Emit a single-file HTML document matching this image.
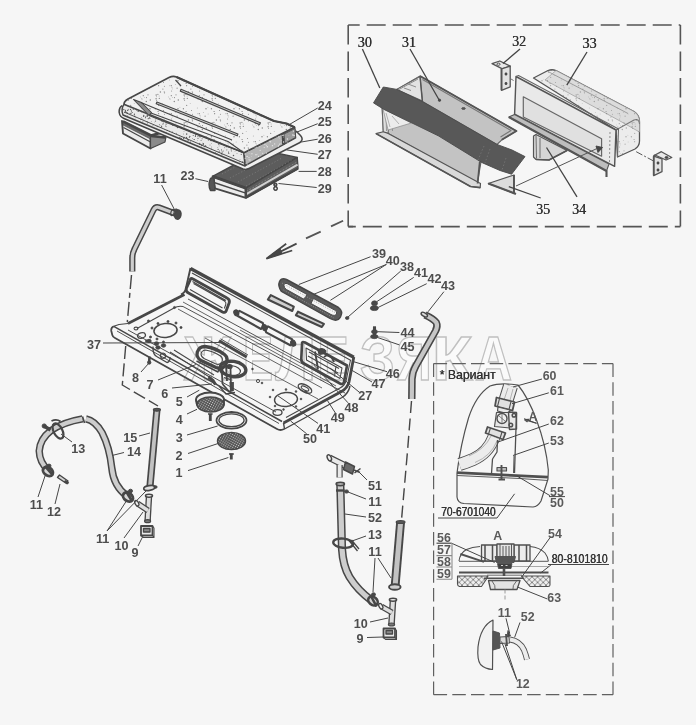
<!DOCTYPE html>
<html><head><meta charset="utf-8"><title>Diagram</title>
<style>
html,body{margin:0;padding:0;background:#f6f6f6;}
body{width:696px;height:725px;overflow:hidden;}
svg{display:block}
text{font-family:"Liberation Sans",sans-serif;fill:#3c3c3c;}
text.l{font-weight:bold;fill:#4d4d4d;}
text.r{font-weight:bold;fill:#5a5a5a;}
text.n{fill:#333;}
text.s{font-family:"Liberation Serif",serif;fill:#333;}
text.wm{font-weight:bold;fill:#fafafa;stroke:#c0c0c0;stroke-width:1.4px;}
</style></head><body>
<svg width="696" height="725" viewBox="0 0 696 725">
<defs>
<pattern id="mesh" width="2.2" height="2.2" patternUnits="userSpaceOnUse" patternTransform="rotate(30)"><rect width="2.2" height="2.2" fill="#555"/><rect width="1" height="1" fill="#cfcfcf"/></pattern>
<pattern id="hatch" width="5.6" height="5.6" patternUnits="userSpaceOnUse"><rect width="5.6" height="5.6" fill="#efefef"/><path d="M0 0L5.6 5.6M5.6 0L0 5.6" stroke="#5a5a5a" stroke-width="0.7"/></pattern>
<pattern id="stipL" width="28" height="28" patternUnits="userSpaceOnUse"><g fill="#5a5a5a"><circle cx="9.1" cy="4.2" r="0.61"/><circle cx="2.0" cy="15.0" r="0.50"/><circle cx="1.6" cy="14.2" r="0.36"/><circle cx="12.1" cy="2.0" r="0.39"/><circle cx="11.9" cy="23.2" r="0.40"/><circle cx="6.3" cy="17.6" r="0.73"/><circle cx="16.2" cy="11.1" r="0.74"/><circle cx="1.3" cy="24.0" r="0.47"/><circle cx="4.0" cy="3.3" r="0.47"/><circle cx="22.9" cy="5.1" r="0.58"/><circle cx="17.9" cy="10.4" r="0.57"/><circle cx="1.8" cy="1.7" r="0.43"/><circle cx="19.1" cy="12.0" r="0.48"/><circle cx="16.4" cy="12.7" r="0.47"/><circle cx="22.2" cy="19.6" r="0.45"/><circle cx="16.1" cy="14.7" r="0.70"/><circle cx="20.4" cy="8.1" r="0.74"/><circle cx="3.3" cy="11.7" r="0.65"/><circle cx="4.3" cy="13.7" r="0.37"/><circle cx="18.7" cy="21.4" r="0.58"/><circle cx="24.5" cy="8.8" r="0.63"/><circle cx="16.6" cy="16.2" r="0.53"/><circle cx="23.5" cy="26.5" r="0.54"/><circle cx="18.6" cy="1.7" r="0.63"/><circle cx="18.1" cy="27.8" r="0.68"/><circle cx="8.0" cy="10.8" r="0.62"/><circle cx="0.6" cy="12.9" r="0.42"/><circle cx="3.3" cy="1.7" r="0.66"/><circle cx="3.6" cy="6.9" r="0.51"/><circle cx="24.4" cy="2.3" r="0.53"/><circle cx="15.4" cy="24.7" r="0.68"/><circle cx="24.2" cy="7.8" r="0.52"/><circle cx="10.0" cy="24.8" r="0.73"/><circle cx="4.2" cy="4.9" r="0.44"/><circle cx="6.5" cy="13.6" r="0.59"/><circle cx="7.4" cy="0.1" r="0.52"/><circle cx="10.3" cy="15.9" r="0.73"/><circle cx="19.3" cy="14.4" r="0.60"/></g></pattern>
<pattern id="stipD" width="28" height="28" patternUnits="userSpaceOnUse"><g fill="#5a5a5a"><circle cx="18.9" cy="1.5" r="0.71"/><circle cx="21.8" cy="24.5" r="0.67"/><circle cx="11.0" cy="11.2" r="0.39"/><circle cx="17.8" cy="1.7" r="0.38"/><circle cx="5.8" cy="4.5" r="0.49"/><circle cx="1.5" cy="0.0" r="0.41"/><circle cx="2.8" cy="10.2" r="0.36"/><circle cx="24.5" cy="17.2" r="0.41"/><circle cx="7.1" cy="9.7" r="0.50"/><circle cx="3.4" cy="23.8" r="0.75"/><circle cx="13.0" cy="13.5" r="0.38"/><circle cx="2.9" cy="9.6" r="0.46"/><circle cx="23.2" cy="4.5" r="0.36"/><circle cx="26.6" cy="14.8" r="0.41"/><circle cx="15.2" cy="0.8" r="0.56"/><circle cx="27.4" cy="24.2" r="0.63"/><circle cx="7.3" cy="10.3" r="0.42"/><circle cx="21.6" cy="14.9" r="0.66"/><circle cx="9.2" cy="6.2" r="0.67"/><circle cx="27.6" cy="23.9" r="0.67"/><circle cx="22.9" cy="20.7" r="0.44"/><circle cx="14.5" cy="10.0" r="0.36"/><circle cx="0.8" cy="7.8" r="0.45"/><circle cx="19.4" cy="26.8" r="0.53"/><circle cx="26.2" cy="27.7" r="0.73"/><circle cx="10.2" cy="6.2" r="0.44"/><circle cx="5.5" cy="5.7" r="0.60"/><circle cx="25.2" cy="23.5" r="0.54"/><circle cx="18.3" cy="22.4" r="0.38"/><circle cx="18.5" cy="25.5" r="0.66"/><circle cx="21.0" cy="13.4" r="0.42"/><circle cx="22.1" cy="9.3" r="0.67"/><circle cx="27.2" cy="11.1" r="0.51"/><circle cx="26.5" cy="20.3" r="0.42"/><circle cx="3.6" cy="4.2" r="0.71"/><circle cx="22.6" cy="4.1" r="0.68"/><circle cx="27.4" cy="18.4" r="0.49"/><circle cx="15.4" cy="3.7" r="0.36"/><circle cx="27.2" cy="18.2" r="0.56"/><circle cx="26.1" cy="12.1" r="0.70"/><circle cx="23.1" cy="5.9" r="0.45"/><circle cx="8.2" cy="6.7" r="0.58"/><circle cx="7.3" cy="11.7" r="0.40"/><circle cx="25.5" cy="9.9" r="0.53"/><circle cx="16.3" cy="25.3" r="0.52"/><circle cx="25.7" cy="14.0" r="0.56"/><circle cx="14.7" cy="0.5" r="0.53"/><circle cx="5.1" cy="0.1" r="0.67"/><circle cx="4.8" cy="13.3" r="0.64"/><circle cx="15.6" cy="9.1" r="0.56"/><circle cx="15.6" cy="22.0" r="0.39"/><circle cx="15.7" cy="7.0" r="0.46"/><circle cx="21.6" cy="14.2" r="0.57"/><circle cx="21.3" cy="25.5" r="0.53"/><circle cx="17.2" cy="14.2" r="0.55"/><circle cx="19.4" cy="12.7" r="0.56"/><circle cx="13.4" cy="26.4" r="0.63"/><circle cx="24.5" cy="26.4" r="0.45"/><circle cx="15.7" cy="26.4" r="0.69"/><circle cx="3.8" cy="3.4" r="0.53"/><circle cx="2.0" cy="6.7" r="0.38"/><circle cx="18.7" cy="22.0" r="0.71"/><circle cx="4.3" cy="20.1" r="0.61"/><circle cx="4.0" cy="24.7" r="0.74"/><circle cx="6.1" cy="26.7" r="0.51"/><circle cx="13.6" cy="27.7" r="0.68"/><circle cx="4.5" cy="12.1" r="0.56"/><circle cx="9.5" cy="5.5" r="0.48"/><circle cx="20.2" cy="0.5" r="0.57"/><circle cx="12.3" cy="0.5" r="0.48"/><circle cx="17.5" cy="14.3" r="0.38"/><circle cx="27.6" cy="22.1" r="0.74"/><circle cx="2.9" cy="7.4" r="0.37"/><circle cx="21.8" cy="7.6" r="0.40"/><circle cx="11.8" cy="25.5" r="0.68"/><circle cx="7.2" cy="4.2" r="0.72"/><circle cx="16.0" cy="19.6" r="0.39"/><circle cx="1.6" cy="19.3" r="0.52"/><circle cx="2.0" cy="26.3" r="0.60"/><circle cx="22.4" cy="2.3" r="0.69"/><circle cx="1.9" cy="24.2" r="0.53"/><circle cx="9.5" cy="15.5" r="0.72"/><circle cx="7.5" cy="3.6" r="0.56"/><circle cx="6.7" cy="3.1" r="0.41"/><circle cx="1.4" cy="5.6" r="0.47"/><circle cx="8.5" cy="21.3" r="0.47"/><circle cx="14.0" cy="5.0" r="0.49"/><circle cx="0.5" cy="7.0" r="0.36"/><circle cx="20.5" cy="15.4" r="0.43"/><circle cx="13.3" cy="26.2" r="0.39"/><circle cx="22.9" cy="12.1" r="0.55"/><circle cx="23.4" cy="11.0" r="0.55"/><circle cx="19.3" cy="27.5" r="0.49"/><circle cx="23.3" cy="19.8" r="0.60"/><circle cx="11.3" cy="9.7" r="0.37"/></g></pattern>
<pattern id="stipW" width="28" height="28" patternUnits="userSpaceOnUse"><g fill="#e8e8e8"><circle cx="3.6" cy="2.0" r="0.65"/><circle cx="7.2" cy="4.6" r="0.38"/><circle cx="23.6" cy="24.4" r="0.62"/><circle cx="7.9" cy="6.8" r="0.47"/><circle cx="12.9" cy="4.4" r="0.53"/><circle cx="7.4" cy="26.9" r="0.74"/><circle cx="15.3" cy="6.8" r="0.74"/><circle cx="8.7" cy="10.0" r="0.35"/><circle cx="10.7" cy="13.3" r="0.55"/><circle cx="5.6" cy="14.1" r="0.35"/><circle cx="7.4" cy="2.5" r="0.51"/><circle cx="1.2" cy="0.6" r="0.47"/><circle cx="6.5" cy="16.4" r="0.56"/><circle cx="21.0" cy="18.4" r="0.64"/><circle cx="24.6" cy="10.9" r="0.48"/><circle cx="27.6" cy="4.2" r="0.64"/><circle cx="18.0" cy="1.2" r="0.68"/><circle cx="25.0" cy="17.6" r="0.64"/><circle cx="22.7" cy="3.9" r="0.56"/><circle cx="14.1" cy="23.4" r="0.67"/><circle cx="23.1" cy="16.4" r="0.71"/><circle cx="19.1" cy="19.4" r="0.44"/><circle cx="0.9" cy="3.7" r="0.49"/><circle cx="2.9" cy="23.4" r="0.57"/><circle cx="17.6" cy="17.5" r="0.62"/><circle cx="13.7" cy="0.1" r="0.67"/><circle cx="21.0" cy="14.1" r="0.56"/><circle cx="18.5" cy="1.8" r="0.64"/><circle cx="7.1" cy="2.1" r="0.46"/><circle cx="20.4" cy="5.7" r="0.65"/><circle cx="27.3" cy="13.8" r="0.50"/><circle cx="13.4" cy="19.1" r="0.66"/><circle cx="17.3" cy="18.0" r="0.38"/><circle cx="4.1" cy="7.1" r="0.65"/><circle cx="8.5" cy="15.9" r="0.35"/><circle cx="1.7" cy="7.5" r="0.62"/><circle cx="19.4" cy="18.9" r="0.47"/><circle cx="14.5" cy="13.0" r="0.54"/><circle cx="3.3" cy="25.0" r="0.43"/><circle cx="27.4" cy="26.2" r="0.36"/><circle cx="12.9" cy="23.0" r="0.74"/><circle cx="12.6" cy="7.5" r="0.43"/><circle cx="26.5" cy="5.9" r="0.58"/><circle cx="4.0" cy="14.7" r="0.73"/><circle cx="3.7" cy="23.0" r="0.55"/><circle cx="24.8" cy="19.7" r="0.44"/><circle cx="25.1" cy="13.6" r="0.36"/><circle cx="0.1" cy="13.8" r="0.53"/><circle cx="8.5" cy="3.9" r="0.49"/><circle cx="8.9" cy="23.5" r="0.35"/><circle cx="21.0" cy="23.5" r="0.40"/><circle cx="25.9" cy="20.0" r="0.71"/><circle cx="8.1" cy="10.4" r="0.51"/><circle cx="28.0" cy="16.5" r="0.49"/><circle cx="12.0" cy="7.7" r="0.37"/><circle cx="2.8" cy="23.4" r="0.46"/><circle cx="26.2" cy="7.0" r="0.46"/><circle cx="14.3" cy="5.3" r="0.50"/><circle cx="26.8" cy="24.8" r="0.67"/><circle cx="17.7" cy="25.6" r="0.73"/></g></pattern>
<filter id="soft" x="-5%" y="-5%" width="110%" height="110%"><feGaussianBlur stdDeviation="0.45"/></filter>
</defs>
<rect width="696" height="725" fill="#f6f6f6"/>
<g filter="url(#soft)">
<text x="183.9" y="380" class="wm" font-size="62.5" textLength="47.9" lengthAdjust="spacingAndGlyphs">Ж</text>
<text x="243.0" y="380" class="wm" font-size="62.5" textLength="30.1" lengthAdjust="spacingAndGlyphs">Е</text>
<text x="275.3" y="380" class="wm" font-size="62.5" textLength="40.7" lengthAdjust="spacingAndGlyphs">Л</text>
<text x="317.4" y="380" class="wm" font-size="62.5" textLength="31.2" lengthAdjust="spacingAndGlyphs">Е</text>
<text x="359.9" y="380" class="wm" font-size="62.5" textLength="35.0" lengthAdjust="spacingAndGlyphs">З</text>
<text x="396.6" y="380" class="wm" font-size="62.5" textLength="35.2" lengthAdjust="spacingAndGlyphs">Я</text>
<text x="432.1" y="380" class="wm" font-size="62.5" textLength="40.6" lengthAdjust="spacingAndGlyphs">К</text>
<text x="474.7" y="380" class="wm" font-size="62.5" textLength="37.4" lengthAdjust="spacingAndGlyphs">А</text>
<path d="M348.2 25 H680.4" fill="none" stroke="#555" stroke-width="1.6" stroke-dasharray="19 7" stroke-dashoffset="7.5"/>
<path d="M348.2 25 V226.6" fill="none" stroke="#555" stroke-width="1.6" stroke-dasharray="19.5 7"/>
<path d="M680.4 25 V226.6" fill="none" stroke="#555" stroke-width="1.6" stroke-dasharray="19.5 7"/>
<path d="M348.2 226.6 H680.4" fill="none" stroke="#555" stroke-width="1.6" stroke-dasharray="19 7" stroke-dashoffset="11.4"/>
<path d="M348.2 226.6 H353" fill="none" stroke="#555" stroke-width="1.6"/>
<path d="M433.6 363.6 H613 M433.6 694.7 H613 M433.6 363.6 V694.7 M613 363.6 V694.7" fill="none" stroke="#606060" stroke-width="1.2" stroke-dasharray="13.5 5.2"/>
<path d="M343.1 220.7 L331 226.4 M320.7 231.6 L306 238.4" fill="none" stroke="#555" stroke-width="1.77" stroke-linejoin="round" />
<path d="M266.4 258.6 L286.2 243.8 M266.4 258.6 L296.6 243.6 M266.4 258.6 L292.2 250.5" fill="none" stroke="#464646" stroke-width="1.77" stroke-linejoin="round" />
<path d="M266.4 258.6 L280 248.5 L282 253.5 Z" fill="#464646" stroke="#464646" stroke-width="0.94" stroke-linejoin="round" />
<path d="M190.5 268.5 L353.8 357.2" fill="none" stroke="#464646" stroke-width="3.54" stroke-linejoin="round" />
<path d="M192 273 L351 360.5" fill="none" stroke="#464646" stroke-width="1.06" stroke-linejoin="round" />
<path d="M190.5 268 L185.5 290 Q184.5 293 181 294.5" fill="none" stroke="#464646" stroke-width="1.89" stroke-linejoin="round" />
<path d="M184.5 294.5 L128 323.5" fill="none" stroke="#464646" stroke-width="2.6" stroke-linejoin="round" />
<path d="M128 323.5 L119 324.5 L113.8 326.3" fill="none" stroke="#464646" stroke-width="1.06" stroke-linejoin="round" />
<path d="M183 306.5 Q178 305.5 174 308 L137 328.5" fill="none" stroke="#464646" stroke-width="1.06" stroke-linejoin="round" />
<path d="M113.8 326.3 Q110.8 327.5 111.3 331 L112.3 335 Q112.8 337 115 338 L277 429 Q280.5 431 284 429 " fill="none" stroke="#464646" stroke-width="1.77" stroke-linejoin="round" />
<path d="M113.8 326.3 L282 421.5" fill="none" stroke="#464646" stroke-width="1.53" stroke-linejoin="round" />
<path d="M117 331 L279 423.5" fill="none" stroke="#464646" stroke-width="0.94" stroke-linejoin="round" />
<path d="M353.8 357 L349 382 Q347.5 388 341.5 391.5 L283.5 423" fill="none" stroke="#464646" stroke-width="2.83" stroke-linejoin="round" />
<path d="M350.5 360 L346 381 Q344.8 385.5 340 388 L286 417.5" fill="none" stroke="#464646" stroke-width="1.06" stroke-linejoin="round" />
<path d="M283.5 423 L284.5 429 L342 397.5 Q348.5 393.5 350 386" fill="none" stroke="#464646" stroke-width="1.42" stroke-linejoin="round" />
<path d="M183 306.5 L345 393" fill="none" stroke="#464646" stroke-width="0.94" stroke-linejoin="round" />
<path d="M188 299 L300 360" fill="none" stroke="#464646" stroke-width="0.94" stroke-linejoin="round" />
<path d="M183 302 L336 386" fill="none" stroke="#464646" stroke-width="0.83" stroke-linejoin="round" />
<path d="M128 330 L276 412" fill="none" stroke="#464646" stroke-width="0.94" stroke-linejoin="round" />
<path d="M178 309 L322 388 M240 330 L330 379 M205 338 L318 399" fill="none" stroke="#464646" stroke-width="0.83" stroke-linejoin="round" />
<path d="M193 279 Q190.5 277.5 190 280.5 L186.3 288.5 Q185.5 291.5 188.5 293 L222.5 312 Q225.5 313.5 226.5 310 L229.3 302.5 Q230 299.5 227 298 Z" fill="none" stroke="#464646" stroke-width="2.83" stroke-linejoin="round" />
<path d="M193.5 283.5 L224.5 301 Q226.5 302.5 225.8 304.5 L224.3 308.5 M190 289.5 L222.5 308 M192.5 281.5 L226 300.5" fill="none" stroke="#464646" stroke-width="1.06" stroke-linejoin="round" />
<path d="M239.5 310.9 L262.8 323 Q264 326 261 329 L237.8 316 Q236 313.5 239.5 310.9Z" fill="none" stroke="#464646" stroke-width="2.12" stroke-linejoin="round" />
<path d="M268 326.4 L292 339.3 Q293.5 342.5 290.3 345.3 L266.2 332.4 Q264.5 329.5 268 326.4Z" fill="none" stroke="#464646" stroke-width="2.12" stroke-linejoin="round" />
<ellipse cx="236.3" cy="312.8" rx="2.4" ry="3" transform="rotate(-20 236.3 312.8)" fill="#464646" stroke="#464646" stroke-width="1.18" />
<ellipse cx="264.6" cy="327.6" rx="2.4" ry="3" transform="rotate(-20 264.6 327.6)" fill="#464646" stroke="#464646" stroke-width="1.18" />
<ellipse cx="293.2" cy="343.2" rx="2.4" ry="3" transform="rotate(-20 293.2 343.2)" fill="#464646" stroke="#464646" stroke-width="1.18" />
<path d="M302 344 Q301.5 341 305 342.5 L347 365.5 L344 382 Q343 385 340 383.5 L304 363.5 Q301 362 301.3 358.5 Z" fill="none" stroke="#464646" stroke-width="2.6" stroke-linejoin="round" />
<path d="M306 348 L342 368 L340 378.5 L306.5 360 Z" fill="none" stroke="#464646" stroke-width="1.06" stroke-linejoin="round" />
<path d="M315 351.5 L318 369 M324 357 Q330 352 334 362" fill="none" stroke="#464646" stroke-width="1.89" stroke-linejoin="round" />
<path d="M318 350 Q323 347 326 351 Q324 355 319 354Z" fill="#464646" stroke="#464646" stroke-width="1.18" stroke-linejoin="round" />
<path d="M309 352 L339 368.5 M308 356 L338 373 M336 366 L334.5 376.5" fill="none" stroke="#464646" stroke-width="1.06" stroke-linejoin="round" />
<ellipse cx="165.5" cy="330.5" rx="11.6" ry="7" transform="rotate(-5 165.5 330.5)" fill="none" stroke="#464646" stroke-width="1.53" />
<ellipse cx="286" cy="399.5" rx="11.5" ry="7" transform="rotate(-5 286 399.5)" fill="none" stroke="#464646" stroke-width="1.42" />
<ellipse cx="148.5" cy="321" rx="1.1" ry="1.1" transform="rotate(0 148.5 321)" fill="#464646" stroke="#464646" stroke-width="0.71" />
<ellipse cx="152" cy="328" rx="1.1" ry="1.1" transform="rotate(0 152 328)" fill="#464646" stroke="#464646" stroke-width="0.71" />
<ellipse cx="158" cy="323.5" rx="1.1" ry="1.1" transform="rotate(0 158 323.5)" fill="#464646" stroke="#464646" stroke-width="0.71" />
<ellipse cx="168" cy="321.5" rx="1.1" ry="1.1" transform="rotate(0 168 321.5)" fill="#464646" stroke="#464646" stroke-width="0.71" />
<ellipse cx="176" cy="323" rx="1.1" ry="1.1" transform="rotate(0 176 323)" fill="#464646" stroke="#464646" stroke-width="0.71" />
<ellipse cx="181" cy="327.5" rx="1.1" ry="1.1" transform="rotate(0 181 327.5)" fill="#464646" stroke="#464646" stroke-width="0.71" />
<ellipse cx="157" cy="339" rx="1.1" ry="1.1" transform="rotate(0 157 339)" fill="#464646" stroke="#464646" stroke-width="0.71" />
<ellipse cx="150.5" cy="337" rx="1.1" ry="1.1" transform="rotate(0 150.5 337)" fill="#464646" stroke="#464646" stroke-width="0.71" />
<ellipse cx="146.5" cy="341" rx="1.1" ry="1.1" transform="rotate(0 146.5 341)" fill="#464646" stroke="#464646" stroke-width="0.71" />
<ellipse cx="163.5" cy="342" rx="1.1" ry="1.1" transform="rotate(0 163.5 342)" fill="#464646" stroke="#464646" stroke-width="0.71" />
<ellipse cx="174.5" cy="307.5" rx="1.1" ry="1.1" transform="rotate(0 174.5 307.5)" fill="#464646" stroke="#464646" stroke-width="0.71" />
<ellipse cx="273" cy="390" rx="0.9" ry="0.9" transform="rotate(0 273 390)" fill="#464646" stroke="#464646" stroke-width="0.59" />
<ellipse cx="270" cy="397" rx="0.9" ry="0.9" transform="rotate(0 270 397)" fill="#464646" stroke="#464646" stroke-width="0.59" />
<ellipse cx="275" cy="406" rx="0.9" ry="0.9" transform="rotate(0 275 406)" fill="#464646" stroke="#464646" stroke-width="0.59" />
<ellipse cx="283.5" cy="409.5" rx="0.9" ry="0.9" transform="rotate(0 283.5 409.5)" fill="#464646" stroke="#464646" stroke-width="0.59" />
<ellipse cx="296" cy="406.5" rx="0.9" ry="0.9" transform="rotate(0 296 406.5)" fill="#464646" stroke="#464646" stroke-width="0.59" />
<ellipse cx="301" cy="399" rx="0.9" ry="0.9" transform="rotate(0 301 399)" fill="#464646" stroke="#464646" stroke-width="0.59" />
<ellipse cx="296" cy="391.5" rx="0.9" ry="0.9" transform="rotate(0 296 391.5)" fill="#464646" stroke="#464646" stroke-width="0.59" />
<ellipse cx="286" cy="389.5" rx="0.9" ry="0.9" transform="rotate(0 286 389.5)" fill="#464646" stroke="#464646" stroke-width="0.59" />
<ellipse cx="306" cy="392" rx="0.9" ry="0.9" transform="rotate(0 306 392)" fill="#464646" stroke="#464646" stroke-width="0.59" />
<ellipse cx="262" cy="383" rx="0.9" ry="0.9" transform="rotate(0 262 383)" fill="#464646" stroke="#464646" stroke-width="0.59" />
<ellipse cx="252.5" cy="369" rx="0.9" ry="0.9" transform="rotate(0 252.5 369)" fill="#464646" stroke="#464646" stroke-width="0.59" />
<ellipse cx="141.5" cy="335.5" rx="4" ry="2.6" transform="rotate(-15 141.5 335.5)" fill="none" stroke="#464646" stroke-width="1.3" />
<ellipse cx="136" cy="328.5" rx="2" ry="1.4" transform="rotate(0 136 328.5)" fill="none" stroke="#464646" stroke-width="1.06" />
<ellipse cx="277.5" cy="412.5" rx="4.5" ry="2.8" transform="rotate(0 277.5 412.5)" fill="none" stroke="#464646" stroke-width="1.3" />
<ellipse cx="305" cy="388.5" rx="7.5" ry="3.6" transform="rotate(28 305 388.5)" fill="none" stroke="#464646" stroke-width="1.3" />
<ellipse cx="305" cy="388.5" rx="4.2" ry="1.7" transform="rotate(28 305 388.5)" fill="none" stroke="#464646" stroke-width="1.06" />
<ellipse cx="258" cy="381" rx="1.6" ry="1.6" transform="rotate(0 258 381)" fill="none" stroke="#464646" stroke-width="0.94" />
<ellipse cx="149" cy="341" rx="2.2" ry="1.7" transform="rotate(0 149 341)" fill="#464646" stroke="#464646" stroke-width="0.94" />
<ellipse cx="156.5" cy="343.5" rx="2.2" ry="1.7" transform="rotate(0 156.5 343.5)" fill="#464646" stroke="#464646" stroke-width="0.94" />
<ellipse cx="163.5" cy="345.5" rx="2.2" ry="1.7" transform="rotate(0 163.5 345.5)" fill="#464646" stroke="#464646" stroke-width="0.94" />
<ellipse cx="158" cy="347.5" rx="2.2" ry="1.7" transform="rotate(0 158 347.5)" fill="#464646" stroke="#464646" stroke-width="0.94" />
<path d="M153 346.5 Q152.5 355 157.5 357 L167 362.5 Q170.5 361.5 170 357 M160.5 355 a2.6 2.6 0 1 0 5 1.5 a2.6 2.6 0 1 0 -5 -1.5" fill="none" stroke="#464646" stroke-width="1.3" stroke-linejoin="round" />
<path d="M149.5 356.5 L149.2 361.5" fill="none" stroke="#464646" stroke-width="2.6" stroke-linejoin="round" />
<ellipse cx="149.2" cy="362.5" rx="1.7" ry="1.7" transform="rotate(0 149.2 362.5)" fill="#464646" stroke="#464646" stroke-width="0.94" />
<path d="M205 346.5 Q199 346.5 197.3 352 Q196 357.5 201 360.5 L216 367.5 Q222.5 370 225.5 365 Q229 358 224.5 354.5 Q216 348 205 346.5 Z" fill="none" stroke="#464646" stroke-width="3.3" stroke-linejoin="round" />
<path d="M205.5 350 Q201.5 350.5 201 354 Q201 357 204.5 358.8 L215.5 363.8 Q220 365.5 221.8 362 Q223.5 358 220.5 356 Q214 351.5 205.5 350Z" fill="none" stroke="#464646" stroke-width="1.06" stroke-linejoin="round" />
<ellipse cx="233" cy="369" rx="13" ry="7.6" transform="rotate(8 233 369)" fill="none" stroke="#464646" stroke-width="3.3" />
<ellipse cx="231.5" cy="370.5" rx="9" ry="4.8" transform="rotate(8 231.5 370.5)" fill="none" stroke="#464646" stroke-width="1.18" />
<path d="M196.5 361 L218 372 L220 365.5" fill="none" stroke="#464646" stroke-width="1.42" stroke-linejoin="round" />
<path d="M219 340.7 L246.7 357" fill="none" stroke="#464646" stroke-width="3.07" stroke-linejoin="round" />
<path d="M220.5 338.8 L248 355" fill="none" stroke="#464646" stroke-width="0.94" stroke-linejoin="round" />
<path d="M221.5 364 L222.5 384 M226 366 L227 381 M230.5 368 L231 388 M222.5 384 L229 391.5 L233 390.5 L233 382" fill="none" stroke="#464646" stroke-width="1.77" stroke-linejoin="round" />
<path d="M219 386 L226 394 L235 392.5 M224 377.5 L231 379.5" fill="none" stroke="#464646" stroke-width="1.3" stroke-linejoin="round" />
<ellipse cx="229.5" cy="366.5" rx="2.6" ry="2" transform="rotate(0 229.5 366.5)" fill="#464646" stroke="#464646" stroke-width="1.18" />
<path d="M231 382 L231.5 391" fill="none" stroke="#464646" stroke-width="3.07" stroke-linejoin="round" />
<path d="M208.5 377 L213 380.5 L215.5 384.5" fill="none" stroke="#464646" stroke-width="3.07" stroke-linejoin="round" />
<path d="M170 352 L211 378 M174 350 L214 375" fill="none" stroke="#464646" stroke-width="1.06" stroke-linejoin="round" />
<path d="M212.6 176.4 L262 150 L297.2 157.4 L245.8 188.2 Z" fill="#5c5c5c" stroke="#464646" stroke-width="1.42" stroke-linejoin="round" />
<path d="M245.8 188.2 L297.2 157.4 L298 168.6 L245.8 197.8 Z" fill="#5c5c5c" stroke="#464646" stroke-width="1.42" stroke-linejoin="round" />
<path d="M246.3 194.2 L297.6 164.6" fill="none" stroke="#d2d2d2" stroke-width="2.01" stroke-linejoin="round" />
<path d="M246.3 191.5 L297.6 161.6" fill="none" stroke="#8c8c8c" stroke-width="0.83" stroke-linejoin="round" stroke-dasharray="2 1.5"/>
<path d="M245.8 197.8 L298 168.6" fill="none" stroke="#464646" stroke-width="2.12" stroke-linejoin="round" />
<path d="M212.6 176.4 L245.8 188.2 L245.8 197.8 L215 188.4 Z" fill="#ececec" stroke="#464646" stroke-width="1.89" stroke-linejoin="round" />
<path d="M214 182.5 L245.8 193.2" fill="none" stroke="#464646" stroke-width="1.42" stroke-linejoin="round" />
<path d="M212.6 176.4 L245.8 188.2" fill="none" stroke="#464646" stroke-width="2.83" stroke-linejoin="round" />
<path d="M245.8 188.2 L245.8 197.8" fill="none" stroke="#464646" stroke-width="2.36" stroke-linejoin="round" />
<path d="M210.5 178.5 Q207.5 184 210.5 190.5 L215 190.5 L214 177 Z" fill="#555" stroke="#464646" stroke-width="1.42" stroke-linejoin="round" />
<path d="M273 181.5 L275.5 184.5 M275.5 186.8 a1.7 1.7 0 1 0 0.1 0 M275.3 183.2 a1.4 1.4 0 1 0 0.1 0" fill="none" stroke="#464646" stroke-width="1.53" stroke-linejoin="round" />
<path d="M222 174 L262 153 M230 178 L272 156 M238 182 L282 158 M246 186 L292 160" fill="none" stroke="#8a8a8a" stroke-width="0.71" stroke-linejoin="round" stroke-dasharray="1 2.2"/>
<path d="M122 121 L150.5 135.5 L150.5 148.5 L123 133.5 Z" fill="#ededed" stroke="#464646" stroke-width="1.89" stroke-linejoin="round" />
<path d="M150.5 135.5 L166 137 L165 142 L150.5 148.5 Z" fill="#8a8a8a" stroke="#464646" stroke-width="1.18" stroke-linejoin="round" />
<path d="M123.5 127.5 L150.5 142" fill="none" stroke="#464646" stroke-width="1.18" stroke-linejoin="round" />
<path d="M123 121.5 L151 135.5 L160 133" fill="none" stroke="#464646" stroke-width="2.83" stroke-linejoin="round" />
<path d="M123 122.5 L150.5 136.5 L150.5 139 L123 125 Z" fill="#6a6a6a" stroke="#464646" stroke-width="0.59" stroke-linejoin="round" />
<path d="M151 136 L165.5 137.5" fill="none" stroke="#464646" stroke-width="2.36" stroke-linejoin="round" />
<path d="M122 105.5 Q118.5 108 119.3 113 Q120 117 124 118.5 L243 169 Q246 170 249 168.5 L300 142.5 Q304 139.5 300.5 135.5 L296 131" fill="#efefef" stroke="#464646" stroke-width="1.53" stroke-linejoin="round" />
<path d="M124.5 103.5 L243.9 152.7 L245 166 L123 115 Q120.5 109 124.5 103.5Z" fill="#e9e9e9" stroke="#464646" stroke-width="1.42" stroke-linejoin="round" />
<path d="M243.9 152.7 L294.6 127.2 L295.6 138 L245.3 165.6 Z" fill="#b4b4b4" stroke="#464646" stroke-width="1.42" stroke-linejoin="round" />
<path d="M283 133 L283.5 144.5" fill="none" stroke="#464646" stroke-width="2.83" stroke-linejoin="round" />
<path d="M284 134 L295 128.5 L295.5 137.5 L284.5 143.5Z" fill="#9a9a9a" stroke="#464646" stroke-width="0.94" stroke-linejoin="round" />
<path d="M176.5 77 Q173 75.5 169 77.5 L128 99 Q123 102 124.5 104.5 L243.9 152.7 L294.6 127.2 L286 123.5 L274 121 Z" fill="#f1f1f1" stroke="#464646" stroke-width="1.65" stroke-linejoin="round" />
<path d="M176.5 77 L274 121 L286.5 123.5 L294.6 127.2" fill="none" stroke="#464646" stroke-width="2.12" stroke-linejoin="round" />
<path d="M176.5 77 Q173 75.5 169 77.5 L128 99 Q123 102 124.5 104.5 L243.9 152.7 L294.6 127.2 L286 123.5 L274 121 Z" fill="url(#stipL)" stroke="none" stroke-width="0.0" stroke-linejoin="round" opacity="0.7"/>
<path d="M124.5 103.5 L243.9 152.7 L245 166 L123 115 Q120.5 109 124.5 103.5Z" fill="url(#stipD)" stroke="none" stroke-width="0.0" stroke-linejoin="round" />
<path d="M243.9 152.7 L294.6 127.2 L295.6 138 L245.3 165.6 Z" fill="url(#stipW)" stroke="none" stroke-width="0.0" stroke-linejoin="round" />
<path d="M181 89.3 L260.3 122.8 L259.6 124.6 L180.3 91.1 Z" fill="#d8d8d8" stroke="#464646" stroke-width="1.18" stroke-linejoin="round" />
<path d="M156.9 102 L237.9 134 L237.2 135.8 L156.2 103.8 Z" fill="#d8d8d8" stroke="#464646" stroke-width="1.18" stroke-linejoin="round" />
<path d="M133.5 99.5 L149 115.5 L151.5 112.5 L141.5 102.5 Z" fill="#8c8c8c" stroke="#464646" stroke-width="1.06" stroke-linejoin="round" />
<path d="M149 115.5 L222 144.5 L243.9 152.7 M151 113 L228 141.5 L243.9 152.7 M141 102.5 L232 140" fill="none" stroke="#464646" stroke-width="1.06" stroke-linejoin="round" />
<path d="M175.5 80 L181 86" fill="none" stroke="#464646" stroke-width="1.18" stroke-linejoin="round" />
<path d="M124 112 L245 163.5" fill="none" stroke="#464646" stroke-width="0.94" stroke-linejoin="round" />
<path d="M175 213.5 L159 207.5 Q155.5 206.3 153.5 210 L134.5 249 Q132.3 253 132.3 258 L132.3 271.5" fill="none" stroke="#464646" stroke-width="6.2" stroke-linecap="butt" stroke-linejoin="round"/>
<path d="M175 213.5 L159 207.5 Q155.5 206.3 153.5 210 L134.5 249 Q132.3 253 132.3 258 L132.3 271.5" fill="none" stroke="#cdcdcd" stroke-width="3.2" stroke-linecap="butt" stroke-linejoin="round"/>
<ellipse cx="177.8" cy="214.6" rx="3.2" ry="4.6" transform="rotate(10 177.8 214.6)" fill="#4a4a4a" stroke="#464646" stroke-width="1.42" />
<ellipse cx="176.2" cy="210.3" rx="1.6" ry="1.4" transform="rotate(0 176.2 210.3)" fill="#464646" stroke="#464646" stroke-width="0.94" />
<ellipse cx="172.5" cy="212.5" rx="1.6" ry="3.2" transform="rotate(15 172.5 212.5)" fill="none" stroke="#464646" stroke-width="1.18" />
<path d="M131.5 275 L127.3 322" fill="none" stroke="#464646" stroke-width="1.42" stroke-linejoin="round" stroke-dasharray="14 4 5 4"/>
<path d="M125.7 346 L122.3 385 L158 406" fill="none" stroke="#464646" stroke-width="1.42" stroke-linejoin="round" stroke-dasharray="13 4.5"/>
<path d="M286.5 279.5 Q281.5 277.5 279.5 281.5 Q277.5 286 281.5 291.5 L330 318.5 Q337.5 322.5 340.5 317 Q343.5 311 338.5 307.5 Z" fill="#5a5a5a" stroke="#464646" stroke-width="1.42" stroke-linejoin="round" />
<path d="M287 283.5 Q284 282.5 284 285.5 Q284 288 286.5 289.5 L303.5 299 Q306 297 307 294.5 Z" fill="#f4f4f4" stroke="#464646" stroke-width="0.94" stroke-linejoin="round" />
<path d="M313.5 298.5 Q312 301.5 311 303.5 L331 314.5 Q335 316.5 336.5 314 Q337.5 311.5 334.5 310 Z" fill="#f4f4f4" stroke="#464646" stroke-width="0.94" stroke-linejoin="round" />
<path d="M282 283 L335 312.5 M283.5 290 L334 318" fill="none" stroke="#9a9a9a" stroke-width="0.83" stroke-linejoin="round" stroke-dasharray="1 1.6"/>
<path d="M270.8 295.1 L293.8 306.6 L292.3 311 L267.9 299.5 Z" fill="#cfcfcf" stroke="#464646" stroke-width="2.12" stroke-linejoin="round" />
<path d="M298 311.7 L323.9 323.9 L321.8 327 L295.9 315.3 Z" fill="#cfcfcf" stroke="#464646" stroke-width="2.12" stroke-linejoin="round" />
<ellipse cx="347.2" cy="318" rx="1.8" ry="1.5" transform="rotate(0 347.2 318)" fill="#464646" stroke="#464646" stroke-width="0.71" />
<ellipse cx="374.5" cy="303.3" rx="3.0" ry="2.5" transform="rotate(0 374.5 303.3)" fill="#464646" stroke="#464646" stroke-width="0.71" />
<ellipse cx="374.3" cy="308.2" rx="4.0" ry="2.4" transform="rotate(0 374.3 308.2)" fill="#464646" stroke="#464646" stroke-width="0.71" />
<path d="M374.5 326.3 L374.5 337" fill="none" stroke="#464646" stroke-width="3.07" stroke-linejoin="round" />
<ellipse cx="374.5" cy="331.7" rx="3.0" ry="2.0" transform="rotate(0 374.5 331.7)" fill="#464646" stroke="#464646" stroke-width="0.71" />
<ellipse cx="374.3" cy="336.6" rx="3.7" ry="2.1" transform="rotate(0 374.3 336.6)" fill="#464646" stroke="#464646" stroke-width="0.71" />
<path d="M425 314.8 Q434 319 436.3 322.5 Q438 326 435.5 331 L415.8 366 Q412.3 372 412 379 L411.8 399" fill="none" stroke="#464646" stroke-width="7.4" stroke-linecap="butt" stroke-linejoin="round"/>
<path d="M425 314.8 Q434 319 436.3 322.5 Q438 326 435.5 331 L415.8 366 Q412.3 372 412 379 L411.8 399" fill="none" stroke="#c6c6c6" stroke-width="4.2" stroke-linecap="butt" stroke-linejoin="round"/>
<ellipse cx="424.3" cy="314.6" rx="1.8" ry="3.5" transform="rotate(-60 424.3 314.6)" fill="#dcdcdc" stroke="#464646" stroke-width="1.42" />
<path d="M411.5 401 L407.6 450 L401.5 520" fill="none" stroke="#464646" stroke-width="1.42" stroke-linejoin="round" stroke-dasharray="12 5.5"/>
<path d="M400.6 522 L395.2 585" fill="none" stroke="#464646" stroke-width="8.8" stroke-linecap="butt" stroke-linejoin="round"/>
<path d="M400.6 522 L395.2 585" fill="none" stroke="#c2c2c2" stroke-width="5.0" stroke-linecap="butt" stroke-linejoin="round"/>
<ellipse cx="394.8" cy="587" rx="5.8" ry="2.8" transform="rotate(0 394.8 587)" fill="#cfcfcf" stroke="#464646" stroke-width="1.89" />
<ellipse cx="400.6" cy="522" rx="4.4" ry="1.5" transform="rotate(0 400.6 522)" fill="#555" stroke="#464646" stroke-width="1.18" />
<ellipse cx="210" cy="399.5" rx="14" ry="7" transform="rotate(0 210 399.5)" fill="#f0f0f0" stroke="#464646" stroke-width="1.89" />
<ellipse cx="210.5" cy="404.5" rx="13.5" ry="7.5" transform="rotate(0 210.5 404.5)" fill="url(#mesh)" stroke="#464646" stroke-width="1.42" />
<path d="M196 399.5 Q196 404 197 405.5 M224 399.5 Q224.5 403 224 405.5" fill="none" stroke="#464646" stroke-width="1.42" stroke-linejoin="round" />
<path d="M210.3 414 L210.3 421" fill="none" stroke="#464646" stroke-width="2.83" stroke-linejoin="round" />
<path d="M208 414 L212.6 414" fill="none" stroke="#464646" stroke-width="1.53" stroke-linejoin="round" />
<ellipse cx="231.5" cy="420.3" rx="15" ry="8.3" transform="rotate(0 231.5 420.3)" fill="none" stroke="#464646" stroke-width="1.77" />
<ellipse cx="231.5" cy="420.3" rx="12.6" ry="6.4" transform="rotate(0 231.5 420.3)" fill="none" stroke="#464646" stroke-width="1.3" />
<ellipse cx="231.5" cy="441" rx="14" ry="8.6" transform="rotate(0 231.5 441)" fill="url(#mesh)" stroke="#464646" stroke-width="1.42" />
<path d="M231.3 453.5 L231.3 459.5" fill="none" stroke="#464646" stroke-width="2.83" stroke-linejoin="round" />
<path d="M229 454 L233.8 454" fill="none" stroke="#464646" stroke-width="1.53" stroke-linejoin="round" />
<path d="M48.5 470.5 Q39.5 462.5 39.2 451 Q40 439 51 430.5 Q63.5 422 82.5 418.8" fill="none" stroke="#464646" stroke-width="7.4" stroke-linecap="butt" stroke-linejoin="round"/>
<path d="M48.5 470.5 Q39.5 462.5 39.2 451 Q40 439 51 430.5 Q63.5 422 82.5 418.8" fill="none" stroke="#cdcdcd" stroke-width="4.4" stroke-linecap="butt" stroke-linejoin="round"/>
<path d="M86 418.8 Q95 420.5 102 432.5 Q109.5 447 111.8 468 Q113.5 486 127 496" fill="none" stroke="#464646" stroke-width="7.4" stroke-linecap="butt" stroke-linejoin="round"/>
<path d="M86 418.8 Q95 420.5 102 432.5 Q109.5 447 111.8 468 Q113.5 486 127 496" fill="none" stroke="#cdcdcd" stroke-width="4.4" stroke-linecap="butt" stroke-linejoin="round"/>
<path d="M82.5 416.5 L84.5 423" fill="none" stroke="#464646" stroke-width="1.65" stroke-linejoin="round" />
<ellipse cx="58" cy="431" rx="4.4" ry="8.2" transform="rotate(-28 58 431)" fill="none" stroke="#464646" stroke-width="2.24" />
<path d="M51.5 421 Q56.5 418.5 60.5 421.5" fill="none" stroke="#464646" stroke-width="1.89" stroke-linejoin="round" />
<path d="M44 426 L50.5 430" fill="none" stroke="#464646" stroke-width="3.54" stroke-linejoin="round" />
<ellipse cx="44.2" cy="426" rx="2.1" ry="2.1" transform="rotate(0 44.2 426)" fill="#464646" stroke="#464646" stroke-width="0.94" />
<ellipse cx="48" cy="471.5" rx="5.4" ry="4.0" transform="rotate(35 48 471.5)" fill="#d8d8d8" stroke="#464646" stroke-width="2.83" />
<path d="M45 466 L53 475" fill="none" stroke="#464646" stroke-width="2.83" stroke-linejoin="round" />
<ellipse cx="49" cy="465.8" rx="2" ry="1.7" transform="rotate(0 49 465.8)" fill="#464646" stroke="#464646" stroke-width="0.94" />
<path d="M57.5 477.5 L66.5 483.5 L68 481 L59.5 475 Z" fill="#d5d5d5" stroke="#464646" stroke-width="1.42" stroke-linejoin="round" />
<path d="M64.5 481 L68.5 483.5" fill="none" stroke="#464646" stroke-width="2.6" stroke-linejoin="round" />
<ellipse cx="128" cy="497" rx="5.4" ry="4.0" transform="rotate(35 128 497)" fill="#d8d8d8" stroke="#464646" stroke-width="2.83" />
<path d="M126 491 L132 501" fill="none" stroke="#464646" stroke-width="2.83" stroke-linejoin="round" />
<ellipse cx="130.5" cy="491" rx="2" ry="1.8" transform="rotate(0 130.5 491)" fill="#464646" stroke="#464646" stroke-width="0.94" />
<path d="M156.9 410 L150 486" fill="none" stroke="#464646" stroke-width="7.2" stroke-linecap="butt" stroke-linejoin="round"/>
<path d="M156.9 410 L150 486" fill="none" stroke="#c2c2c2" stroke-width="3.8" stroke-linecap="butt" stroke-linejoin="round"/>
<ellipse cx="156.9" cy="409.8" rx="3.5" ry="1.4" transform="rotate(0 156.9 409.8)" fill="#555" stroke="#464646" stroke-width="1.18" />
<ellipse cx="149.3" cy="488" rx="5.6" ry="2.4" transform="rotate(-8 149.3 488)" fill="#e2e2e2" stroke="#464646" stroke-width="1.65" />
<ellipse cx="155.5" cy="487" rx="1.6" ry="1.3" transform="rotate(0 155.5 487)" fill="#464646" stroke="#464646" stroke-width="0.94" />
<path d="M149 496 L147.6 521" fill="none" stroke="#464646" stroke-width="6.4" stroke-linecap="butt" stroke-linejoin="round"/>
<path d="M149 496 L147.6 521" fill="none" stroke="#dedede" stroke-width="3.8" stroke-linecap="butt" stroke-linejoin="round"/>
<path d="M148 510.5 L137.5 503.5" fill="none" stroke="#464646" stroke-width="6.0" stroke-linecap="butt" stroke-linejoin="round"/>
<path d="M148 510.5 L137.5 503.5" fill="none" stroke="#dedede" stroke-width="3.4" stroke-linecap="butt" stroke-linejoin="round"/>
<ellipse cx="149" cy="495.8" rx="3.5" ry="1.5" transform="rotate(0 149 495.8)" fill="#eee" stroke="#464646" stroke-width="1.53" />
<ellipse cx="147.6" cy="521.2" rx="3.0" ry="1.5" transform="rotate(0 147.6 521.2)" fill="#777" stroke="#464646" stroke-width="1.18" />
<ellipse cx="136.8" cy="503.2" rx="1.7" ry="3.0" transform="rotate(-30 136.8 503.2)" fill="#efefef" stroke="#464646" stroke-width="1.3" />
<path d="M141 526 L152.5 526 L152.5 535.5 L141 535.5 Z" fill="#e8e8e8" stroke="#464646" stroke-width="1.77" stroke-linejoin="round" />
<path d="M143.5 528.5 L150 528.5 L150 532 L143.5 532 Z" fill="#8a8a8a" stroke="#464646" stroke-width="1.3" stroke-linejoin="round" />
<path d="M141 535.5 L143 537.5 L154 537.5 L152.5 535.5 M154 537.5 L154 528 L152.5 526" fill="none" stroke="#464646" stroke-width="1.06" stroke-linejoin="round" />
<path d="M329.5 457.8 L346 466" fill="none" stroke="#464646" stroke-width="6.6" stroke-linecap="butt" stroke-linejoin="round"/>
<path d="M329.5 457.8 L346 466" fill="none" stroke="#e9e9e9" stroke-width="4.2" stroke-linecap="butt" stroke-linejoin="round"/>
<path d="M339.6 465 L339.6 477.5" fill="none" stroke="#464646" stroke-width="6.2" stroke-linecap="butt" stroke-linejoin="round"/>
<path d="M339.6 465 L339.6 477.5" fill="none" stroke="#e9e9e9" stroke-width="3.8" stroke-linecap="butt" stroke-linejoin="round"/>
<ellipse cx="329.3" cy="457.8" rx="1.9" ry="3.2" transform="rotate(-25 329.3 457.8)" fill="#efefef" stroke="#464646" stroke-width="1.42" />
<path d="M345.5 462 L354.5 466.5 L352.5 474 L343.5 469.5Z" fill="#6a6a6a" stroke="#464646" stroke-width="1.42" stroke-linejoin="round" />
<path d="M354 470 L360 472.5 M354.5 473 L360.5 468.5" fill="none" stroke="#464646" stroke-width="1.53" stroke-linejoin="round" />
<path d="M340.3 484 L342 549 Q343 566 349.5 577 Q357.5 590 371 600" fill="none" stroke="#464646" stroke-width="8.2" stroke-linecap="butt" stroke-linejoin="round"/>
<path d="M340.3 484 L342 549 Q343 566 349.5 577 Q357.5 590 371 600" fill="none" stroke="#cdcdcd" stroke-width="5.199999999999999" stroke-linecap="butt" stroke-linejoin="round"/>
<ellipse cx="340.3" cy="484" rx="4.1" ry="1.6" transform="rotate(0 340.3 484)" fill="#cfcfcf" stroke="#464646" stroke-width="1.65" />
<path d="M336 490.5 L344.6 490.5" fill="none" stroke="#464646" stroke-width="2.36" stroke-linejoin="round" />
<ellipse cx="346.5" cy="491.5" rx="2.0" ry="1.6" transform="rotate(0 346.5 491.5)" fill="#464646" stroke="#464646" stroke-width="0.94" />
<ellipse cx="343.2" cy="543.2" rx="10" ry="4.6" transform="rotate(6 343.2 543.2)" fill="none" stroke="#464646" stroke-width="2.36" />
<path d="M349 540.5 L357.5 551 M351.5 540 L359 549" fill="none" stroke="#464646" stroke-width="1.3" stroke-linejoin="round" />
<ellipse cx="373" cy="601" rx="5.2" ry="4" transform="rotate(40 373 601)" fill="#d5d5d5" stroke="#464646" stroke-width="2.6" />
<path d="M370.5 595 L376.5 606.5" fill="none" stroke="#464646" stroke-width="2.6" stroke-linejoin="round" />
<ellipse cx="373.5" cy="594.5" rx="2" ry="1.7" transform="rotate(0 373.5 594.5)" fill="#464646" stroke="#464646" stroke-width="0.94" />
<path d="M393 600 L391.5 624.5" fill="none" stroke="#464646" stroke-width="6.6" stroke-linecap="butt" stroke-linejoin="round"/>
<path d="M393 600 L391.5 624.5" fill="none" stroke="#dedede" stroke-width="4.0" stroke-linecap="butt" stroke-linejoin="round"/>
<path d="M392 612.5 L381.5 606.5" fill="none" stroke="#464646" stroke-width="6.0" stroke-linecap="butt" stroke-linejoin="round"/>
<path d="M392 612.5 L381.5 606.5" fill="none" stroke="#dedede" stroke-width="3.4" stroke-linecap="butt" stroke-linejoin="round"/>
<ellipse cx="393" cy="599.7" rx="3.6" ry="1.5" transform="rotate(0 393 599.7)" fill="#eee" stroke="#464646" stroke-width="1.53" />
<ellipse cx="391.5" cy="624.5" rx="3.1" ry="1.5" transform="rotate(0 391.5 624.5)" fill="#777" stroke="#464646" stroke-width="1.18" />
<ellipse cx="380.8" cy="606.2" rx="1.7" ry="3.0" transform="rotate(-30 380.8 606.2)" fill="#efefef" stroke="#464646" stroke-width="1.3" />
<path d="M383.5 628.5 L395 628.5 L395 637.5 L383.5 637.5 Z" fill="#e8e8e8" stroke="#464646" stroke-width="1.77" stroke-linejoin="round" />
<path d="M386 630.5 L392.5 630.5 L392.5 634 L386 634 Z" fill="#8a8a8a" stroke="#464646" stroke-width="1.3" stroke-linejoin="round" />
<path d="M383.5 637.5 L385.5 639.5 L396.5 639.5 L395 637.5 M396.5 639.5 L396.5 630.5 L395 628.5" fill="none" stroke="#464646" stroke-width="1.06" stroke-linejoin="round" />
<path d="M420 76 L516.4 131 L501.8 139.8 L497 144.5 L422.4 101.6 L396.8 89.4 Z" fill="#c3c3c3" stroke="#666" stroke-width="1.18" stroke-linejoin="round" />
<path d="M396.8 89.4 L420 76.5 L422.5 101 Z" fill="#e3e3e3" stroke="#666" stroke-width="1.06" stroke-linejoin="round" />
<path d="M420 76 L516.4 131 L501.8 139.8" fill="none" stroke="#555" stroke-width="1.89" stroke-linejoin="round" />
<path d="M422.5 79.5 L511 130.5 L500.5 137" fill="none" stroke="#777" stroke-width="1.06" stroke-linejoin="round" />
<path d="M420 76 L422.4 101.6" fill="none" stroke="#555" stroke-width="1.42" stroke-linejoin="round" />
<path d="M398 90 L418 79 M404 88 L411 90.5 M408 84 L416 87" fill="none" stroke="#888" stroke-width="0.94" stroke-linejoin="round" />
<ellipse cx="463.5" cy="108.5" rx="1.8" ry="0.9" transform="rotate(0 463.5 108.5)" fill="#555" stroke="#555" stroke-width="0.94" />
<ellipse cx="439.5" cy="100.2" rx="1.2" ry="1.2" transform="rotate(0 439.5 100.2)" fill="#444" stroke="#444" stroke-width="0.71" />
<path d="M382 104 L389.4 108 L482 156 L477.4 183 L388.2 133.6 L383.3 132.2 Z" fill="#c3c3c3" stroke="#666" stroke-width="1.18" stroke-linejoin="round" />
<path d="M382 104 L383.3 132.2 L388.2 133.4 L389 108 Z" fill="#dedede" stroke="#666" stroke-width="1.06" stroke-linejoin="round" />
<path d="M376 133.6 L383.3 131.8 L388.2 133.4 L480.5 183.5 L480.2 187.6 L470.5 186.5 Z" fill="#d9d9d9" stroke="#555" stroke-width="1.18" stroke-linejoin="round" />
<path d="M376 133.6 L470.5 186.5 L480.2 187.6" fill="none" stroke="#555" stroke-width="1.65" stroke-linejoin="round" />
<path d="M479.8 161.5 L477.6 183.5" fill="none" stroke="#555" stroke-width="1.77" stroke-linejoin="round" />
<path d="M392 117 L392.5 131 M386 114 L386.5 131" fill="none" stroke="#888" stroke-width="0.83" stroke-linejoin="round" />
<path d="M383 109 L388.1 130 L411.4 123 Z" fill="#ececec" stroke="#888" stroke-width="0.71" stroke-linejoin="round" />
<path d="M386 113 L390 127 M392 116 L399 124" fill="none" stroke="#999" stroke-width="0.71" stroke-linejoin="round" />
<path d="M383.3 87 L373.5 102.9 L383.3 109 L438.3 135.8 L482.2 162.7 L500 170.5 L511.6 174.2 L525 156.6 L512 150 L496.9 144.4 L422.4 101.6 L396.8 89.4 Z" fill="#585858" stroke="#4c4c4c" stroke-width="0.94" stroke-linejoin="round" />
<path d="M484 146 L478 160 M490 149 L485 163 M506 158 L502 170" fill="none" stroke="#7a7a7a" stroke-width="0.71" stroke-linejoin="round" stroke-dasharray="1.5 2"/>
<path d="M488.3 183.5 L514 175 L514 193.2 Z" fill="#dcdcdc" stroke="#555" stroke-width="1.3" stroke-linejoin="round" />
<path d="M488.3 183.5 L514 193.2 L516 194" fill="none" stroke="#555" stroke-width="2.12" stroke-linejoin="round" />
<path d="M514 175 L514 193.2" fill="none" stroke="#555" stroke-width="1.89" stroke-linejoin="round" />
<path d="M492 63.6 L499.8 61 L510.2 66.2 L502.4 68.8 Z" fill="#e9e9e9" stroke="#555" stroke-width="1.3" stroke-linejoin="round" />
<path d="M501.5 68.8 L510.2 66.2 L510.2 86.9 L501.5 90.3 Z" fill="#e2e2e2" stroke="#555" stroke-width="1.3" stroke-linejoin="round" />
<path d="M501.5 68.8 L501.5 90.3" fill="none" stroke="#555" stroke-width="1.77" stroke-linejoin="round" />
<ellipse cx="498.5" cy="64.2" rx="1.6" ry="1.1" transform="rotate(0 498.5 64.2)" fill="#f6f6f6" stroke="#444" stroke-width="0.94" />
<ellipse cx="506" cy="74" rx="1.0" ry="1.2" transform="rotate(0 506 74)" fill="#444" stroke="#444" stroke-width="0.83" />
<ellipse cx="506" cy="83.5" rx="1.0" ry="1.2" transform="rotate(0 506 83.5)" fill="#444" stroke="#444" stroke-width="0.83" />
<line x1="511" y1="79" x2="517" y2="82.5" stroke="#666" stroke-width="0.9" stroke-dasharray="3 2"/>
<path d="M533.5 78 L548 70.5 Q552 69 556 70.5 L634 111.5 Q639.5 115 639.5 122 L639.5 141 Q639.5 146 635 149 L617.5 157 L616 130 Z" fill="#ececec" stroke="#555" stroke-width="1.3" stroke-linejoin="round" />
<path d="M556 70.5 L634 111.5 Q639.5 115 639.5 122 L639.5 132 L620 121 L545 80 Z" fill="#dcdcdc" stroke="#999" stroke-width="0.71" stroke-linejoin="round" />
<path d="M616 130 L634 120 Q639 118 639.5 124" fill="none" stroke="#777" stroke-width="1.06" stroke-linejoin="round" />
<path d="M548 71.5 L628 113.5" fill="none" stroke="#999" stroke-width="0.94" stroke-linejoin="round" />
<path d="M533.5 78 L548 70.5 Q552 69 556 70.5 L634 111.5 Q639.5 115 639.5 122 L639.5 141 Q639.5 146 635 149 L617.5 157 L616 130 Z" fill="url(#stipL)" stroke="none" stroke-width="0.0" stroke-linejoin="round" opacity="0.45"/>
<path d="M516 76.5 L616 130 L614.6 166.4 L514.6 114.2 Z" fill="#e9e9e9" stroke="#555" stroke-width="1.42" stroke-linejoin="round" />
<path d="M523.3 96.8 L601.6 138.8 L601.6 156.2 L523.3 117 Z" fill="#e0e0e0" stroke="#666" stroke-width="1.18" stroke-linejoin="round" />
<path d="M516 76.5 L518.5 75.5 L618.5 129 L616 130 M618.5 129 L617.5 157" fill="none" stroke="#666" stroke-width="1.06" stroke-linejoin="round" />
<path d="M610 132 L609.5 162" fill="none" stroke="#888" stroke-width="0.94" stroke-linejoin="round" stroke-dasharray="2 2"/>
<path d="M596 146 L602.5 147.5 L598 152.5 Z" fill="#444" stroke="#444" stroke-width="0.94" stroke-linejoin="round" />
<path d="M508.8 117 L514.5 114.5 L609 164 L606.5 171 Z" fill="#bdbdbd" stroke="#555" stroke-width="1.06" stroke-linejoin="round" />
<path d="M508.8 117 L606.5 171 L606.5 177" fill="none" stroke="#555" stroke-width="2.12" stroke-linejoin="round" />
<path d="M533.5 136 L536 134.5 L567 150.5 L549 160 L536 159.5 L533.5 157 Z" fill="#d6d6d6" stroke="#555" stroke-width="1.18" stroke-linejoin="round" />
<path d="M536 134.5 L536.5 158.5 M540 138 L540 158" fill="none" stroke="#666" stroke-width="0.94" stroke-linejoin="round" />
<path d="M536 159.5 L549 160 L567 150.5" fill="none" stroke="#555" stroke-width="1.65" stroke-linejoin="round" />
<path d="M655 155 L661.4 151.7 L671.8 157.5 L666 160 Z" fill="#e9e9e9" stroke="#555" stroke-width="1.3" stroke-linejoin="round" />
<path d="M653.7 156.2 L662 158.8 L662 171.7 L653.7 175.6 Z" fill="#e2e2e2" stroke="#555" stroke-width="1.3" stroke-linejoin="round" />
<path d="M653.7 156.2 L653.7 175.6 M653.7 156.2 L655 155" fill="none" stroke="#555" stroke-width="1.77" stroke-linejoin="round" />
<ellipse cx="658" cy="163" rx="1.0" ry="1.2" transform="rotate(0 658 163)" fill="#444" stroke="#444" stroke-width="0.83" />
<ellipse cx="658" cy="170" rx="1.0" ry="1.2" transform="rotate(0 658 170)" fill="#444" stroke="#444" stroke-width="0.83" />
<ellipse cx="666.5" cy="157.5" rx="1.5" ry="1.0" transform="rotate(0 666.5 157.5)" fill="#444" stroke="#444" stroke-width="0.83" />
<line x1="636.2" y1="151.7" x2="653" y2="160.7" stroke="#555" stroke-width="1.0" stroke-dasharray="7 2 2 2"/>
<path d="M518 385 Q500 382.5 490 386 Q476 395 468.5 418 Q460.5 445 457 473 L457 497 Q457.5 503 464 503.5 L533 507 Q538 506.5 541 501 L548 479 L548.3 470 Q546 445 536.5 420 Q528 397 518 385 Z" fill="none" stroke="#505050" stroke-width="1.18" stroke-linejoin="round" />
<path d="M457 472.6 L548 477.2" fill="none" stroke="#505050" stroke-width="2.83" stroke-linejoin="round" />
<path d="M457 475.5 L520 478.5 L548 480.5" fill="none" stroke="#505050" stroke-width="0.94" stroke-linejoin="round" />
<path d="M510.5 386 L505.5 402" fill="none" stroke="#505050" stroke-width="15" stroke-linecap="butt" stroke-linejoin="round"/>
<path d="M510.5 386 L505.5 402" fill="none" stroke="#ececec" stroke-width="13" stroke-linecap="butt" stroke-linejoin="round"/>
<path d="M508 388 L504 400 M513 389 L509.5 402" fill="none" stroke="#999" stroke-width="0.71" stroke-linejoin="round" />
<path d="M496.5 397.5 L514.5 402 L512.5 410.5 L495 406 Z" fill="#e0e0e0" stroke="#505050" stroke-width="1.77" stroke-linejoin="round" />
<path d="M499.5 398.5 L497.5 406.5 M511 401.5 L509 409.5" fill="none" stroke="#505050" stroke-width="1.06" stroke-linejoin="round" />
<path d="M498 407 L510 410 L509 414 L497.5 411 Z" fill="#e8e8e8" stroke="#505050" stroke-width="1.18" stroke-linejoin="round" />
<path d="M496.5 412.5 L509.5 412.5 L510 428 L494.5 426.5 Z" fill="#e6e6e6" stroke="#505050" stroke-width="1.18" stroke-linejoin="round" />
<ellipse cx="502" cy="418.5" rx="5" ry="5" transform="rotate(0 502 418.5)" fill="#efefef" stroke="#505050" stroke-width="1.42" />
<path d="M499 416 L505 421 M502 414.5 L502 422.5" fill="none" stroke="#505050" stroke-width="0.71" stroke-linejoin="round" />
<path d="M508.5 412 L516.5 412.5 L516.5 429 L509.5 429.5 Z" fill="#e9e9e9" stroke="#505050" stroke-width="1.42" stroke-linejoin="round" />
<ellipse cx="514" cy="415.3" rx="1.8" ry="1.8" transform="rotate(0 514 415.3)" fill="none" stroke="#505050" stroke-width="1.53" />
<ellipse cx="510.8" cy="425" rx="1.8" ry="1.8" transform="rotate(0 510.8 425)" fill="none" stroke="#505050" stroke-width="1.53" />
<path d="M487.5 427 L505.5 433 L503 439.5 L485.5 433 Z" fill="#e0e0e0" stroke="#505050" stroke-width="1.77" stroke-linejoin="round" />
<path d="M490.5 428 L488.5 434 M502 432 L500 438.5" fill="none" stroke="#505050" stroke-width="1.06" stroke-linejoin="round" />
<path d="M494 437 Q488 453 473 459.5 Q466 462.5 459.5 464.5" fill="none" stroke="#505050" stroke-width="13" stroke-linecap="butt" stroke-linejoin="round"/>
<path d="M494 437 Q488 453 473 459.5 Q466 462.5 459.5 464.5" fill="none" stroke="#ececec" stroke-width="11.2" stroke-linecap="butt" stroke-linejoin="round"/>
<path d="M497 441 Q491 456 475 462.5 M491 436 Q485 449 469 456" fill="none" stroke="#999" stroke-width="0.71" stroke-linejoin="round" />
<path d="M516.5 413 L514.5 473 M492.5 459 L491.5 473.5 M492.5 459 L497 452 L497.5 440" fill="none" stroke="#505050" stroke-width="1.3" stroke-linejoin="round" />
<path d="M514 456 L513.5 473" fill="none" stroke="#505050" stroke-width="0.94" stroke-linejoin="round" />
<path d="M497 467.5 L506.5 467.5 L506.5 471 L497 471 Z" fill="#bbb" stroke="#505050" stroke-width="1.18" stroke-linejoin="round" />
<path d="M501.5 465 L501.5 479 M498.5 479.5 L505 479.5" fill="none" stroke="#505050" stroke-width="1.89" stroke-linejoin="round" />
<path d="M524.5 419.7 L536.5 423.3 M524.5 419.7 L529 419.3 M524.5 419.7 L527.5 422" fill="none" stroke="#505050" stroke-width="1.18" stroke-linejoin="round" />
<path d="M459 561 Q460 553 466.5 549.5 Q472 547 480 546.5 M530 546.5 Q540 547.5 545 553 Q548 557 548.3 561" fill="none" stroke="#505050" stroke-width="1.06" stroke-linejoin="round" />
<path d="M459 561.3 L548.5 561.3" fill="none" stroke="#505050" stroke-width="0.94" stroke-linejoin="round" />
<path d="M459 566.5 L548.5 566.5" fill="none" stroke="#888" stroke-width="0.71" stroke-linejoin="round" />
<path d="M459 572.6 L548.5 572.6" fill="none" stroke="#505050" stroke-width="2.01" stroke-linejoin="round" />
<path d="M481.5 545 L497 545 L497 561 L481.5 561 Z M514 545 L530 545 L530 561 L514 561 Z" fill="#ececec" stroke="#505050" stroke-width="1.3" stroke-linejoin="round" />
<path d="M485 545 L485 561 M492.5 545 L492.5 561 M519 545 L519 561 M526.5 545 L526.5 561" fill="none" stroke="#505050" stroke-width="1.53" stroke-linejoin="round" />
<path d="M497 544 L514 544 L514 558 L497 558 Z" fill="#e4e4e4" stroke="#505050" stroke-width="1.3" stroke-linejoin="round" />
<path d="M500 544 L500 558 M503 546 L503 558 M506 546 L506 558 M509 546 L509 558 M511.5 544 L511.5 558" fill="none" stroke="#505050" stroke-width="0.94" stroke-linejoin="round" />
<path d="M460.4 554 L484 561.8" fill="none" stroke="#505050" stroke-width="1.89" stroke-linejoin="round" />
<path d="M495 556.5 L515.5 556.5 L514 562.5 L496.5 562.5 Z" fill="#555" stroke="#505050" stroke-width="0.94" stroke-linejoin="round" />
<path d="M497.5 563.5 L512 563.5 L511 568.5 L498.5 568.5 Z" fill="#3f3f3f" stroke="#505050" stroke-width="0.94" stroke-linejoin="round" />
<path d="M504 568.5 L504 576" fill="none" stroke="#505050" stroke-width="2.6" stroke-linejoin="round" />
<path d="M501 565.5 L503 565.5 M505.5 565.5 L507.5 565.5" fill="none" stroke="#ddd" stroke-width="0.94" stroke-linejoin="round" />
<path d="M457.5 576 L488 576 L486.5 579 L481.5 586.5 L459.5 586.5 Q457.5 586 457.5 584 Z" fill="url(#hatch)" stroke="#505050" stroke-width="1.06" stroke-linejoin="round" />
<path d="M521.5 576 L550 576 L550 585 Q550 586.5 548 586.5 L530 586.5 L524 579.5 Z" fill="url(#hatch)" stroke="#505050" stroke-width="1.06" stroke-linejoin="round" />
<path d="M484 578.2 L524 578.2" fill="none" stroke="#505050" stroke-width="1.53" stroke-linejoin="round" />
<path d="M487 575.2 L522 575.2" fill="none" stroke="#505050" stroke-width="0.83" stroke-linejoin="round" />
<path d="M488.5 580.5 L520 580.5 L517 589.5 L490.5 589.5 Z" fill="#e2e2e2" stroke="#505050" stroke-width="1.3" stroke-linejoin="round" />
<path d="M492 581 Q496 586 495 589 M516.5 581 Q512 586 513 589" fill="none" stroke="#505050" stroke-width="0.83" stroke-linejoin="round" />
<path d="M505 589.5 L505 600" fill="none" stroke="#888" stroke-width="0.83" stroke-linejoin="round" stroke-dasharray="4 2"/>
<path d="M493 620 Q480.5 626 478 647 Q477 660 480.5 664.5 Q485 669 492.5 669.5 L493 620 Z" fill="#f2f2f2" stroke="#505050" stroke-width="1.18" stroke-linejoin="round" />
<path d="M493 631 L499.5 633 L500 648 L493 650 Z" fill="#555" stroke="#505050" stroke-width="0.94" stroke-linejoin="round" />
<path d="M500 637 L509 636.5 L509.5 643 L500 643.5 Z" fill="#ddd" stroke="#505050" stroke-width="1.06" stroke-linejoin="round" />
<path d="M506 634 L507 646" fill="none" stroke="#505050" stroke-width="1.89" stroke-linejoin="round" />
<path d="M508 630.5 L510.5 636 L507 636.5 Z" fill="#444" stroke="#505050" stroke-width="0.94" stroke-linejoin="round" />
<path d="M510 639.5 Q520 641 524 650 Q526 655 527 659.5" fill="none" stroke="#505050" stroke-width="6" stroke-linecap="butt" stroke-linejoin="round"/>
<path d="M510 639.5 Q520 641 524 650 Q526 655 527 659.5" fill="none" stroke="#ececec" stroke-width="4.2" stroke-linecap="butt" stroke-linejoin="round"/>
<text x="324.7" y="109.5" class="l" font-size="12.6" text-anchor="middle">24</text>
<text x="324.7" y="126.2" class="l" font-size="12.6" text-anchor="middle">25</text>
<text x="324.7" y="142.5" class="l" font-size="12.6" text-anchor="middle">26</text>
<text x="324.7" y="159.2" class="l" font-size="12.6" text-anchor="middle">27</text>
<text x="324.7" y="175.9" class="l" font-size="12.6" text-anchor="middle">28</text>
<text x="324.7" y="192.5" class="l" font-size="12.6" text-anchor="middle">29</text>
<text x="187.4" y="180.2" class="l" font-size="12.6" text-anchor="middle">23</text>
<text x="160" y="182.5" class="l" font-size="12.6" text-anchor="middle">11</text>
<text x="379" y="257.5" class="l" font-size="12.6" text-anchor="middle">39</text>
<text x="392.8" y="264.5" class="l" font-size="12.6" text-anchor="middle">40</text>
<text x="407" y="270.9" class="l" font-size="12.6" text-anchor="middle">38</text>
<text x="421" y="276.5" class="l" font-size="12.6" text-anchor="middle">41</text>
<text x="434.4" y="283.3" class="l" font-size="12.6" text-anchor="middle">42</text>
<text x="448" y="289.9" class="l" font-size="12.6" text-anchor="middle">43</text>
<text x="407.4" y="337.0" class="l" font-size="12.6" text-anchor="middle">44</text>
<text x="407.4" y="350.8" class="l" font-size="12.6" text-anchor="middle">45</text>
<text x="392.8" y="378.1" class="l" font-size="12.6" text-anchor="middle">46</text>
<text x="378.4" y="388.2" class="l" font-size="12.6" text-anchor="middle">47</text>
<text x="365.3" y="400.4" class="l" font-size="12.6" text-anchor="middle">27</text>
<text x="351.5" y="411.5" class="l" font-size="12.6" text-anchor="middle">48</text>
<text x="337.7" y="422.2" class="l" font-size="12.6" text-anchor="middle">49</text>
<text x="323.2" y="433.0" class="l" font-size="12.6" text-anchor="middle">41</text>
<text x="310" y="442.9" class="l" font-size="12.6" text-anchor="middle">50</text>
<text x="94" y="348.5" class="l" font-size="12.6" text-anchor="middle">37</text>
<text x="135.6" y="381.5" class="l" font-size="12.6" text-anchor="middle">8</text>
<text x="150" y="389.2" class="l" font-size="12.6" text-anchor="middle">7</text>
<text x="164.8" y="397.5" class="l" font-size="12.6" text-anchor="middle">6</text>
<text x="179.3" y="406.2" class="l" font-size="12.6" text-anchor="middle">5</text>
<text x="179.3" y="424.2" class="l" font-size="12.6" text-anchor="middle">4</text>
<text x="179.3" y="441.5" class="l" font-size="12.6" text-anchor="middle">3</text>
<text x="179" y="460.0" class="l" font-size="12.6" text-anchor="middle">2</text>
<text x="179" y="477.1" class="l" font-size="12.6" text-anchor="middle">1</text>
<text x="130.3" y="441.5" class="l" font-size="12.6" text-anchor="middle">15</text>
<text x="134" y="456.3" class="l" font-size="12.6" text-anchor="middle">14</text>
<text x="78.2" y="453.1" class="l" font-size="12.6" text-anchor="middle">13</text>
<text x="36.4" y="509.0" class="l" font-size="12.6" text-anchor="middle">11</text>
<text x="54" y="516.0" class="l" font-size="12.6" text-anchor="middle">12</text>
<text x="102.6" y="542.8" class="l" font-size="12.6" text-anchor="middle">11</text>
<text x="121.5" y="549.8" class="l" font-size="12.6" text-anchor="middle">10</text>
<text x="135" y="556.8" class="l" font-size="12.6" text-anchor="middle">9</text>
<text x="375" y="490.0" class="l" font-size="12.6" text-anchor="middle">51</text>
<text x="375" y="505.8" class="l" font-size="12.6" text-anchor="middle">11</text>
<text x="375" y="522.3" class="l" font-size="12.6" text-anchor="middle">52</text>
<text x="375" y="539.1" class="l" font-size="12.6" text-anchor="middle">13</text>
<text x="375" y="555.9" class="l" font-size="12.6" text-anchor="middle">11</text>
<text x="360.7" y="627.9" class="l" font-size="12.6" text-anchor="middle">10</text>
<text x="360" y="643.1" class="l" font-size="12.6" text-anchor="middle">9</text>
<text x="549.6" y="380.3" class="r" font-size="12.4" text-anchor="middle">60</text>
<text x="557" y="395.1" class="r" font-size="12.4" text-anchor="middle">61</text>
<text x="557" y="425.1" class="r" font-size="12.4" text-anchor="middle">62</text>
<text x="557" y="445.0" class="r" font-size="12.4" text-anchor="middle">53</text>
<text x="557" y="495.5" class="r" font-size="12.4" text-anchor="middle">55</text>
<text x="557" y="507.0" class="r" font-size="12.4" text-anchor="middle">50</text>
<text x="533" y="421.3" class="r" font-size="12.4" text-anchor="middle">A</text>
<text x="497.7" y="540.3" class="r" font-size="12.4" text-anchor="middle">A</text>
<text x="443.9" y="541.8" class="r" font-size="12.4" text-anchor="middle">56</text>
<text x="443.9" y="554.4" class="r" font-size="12.4" text-anchor="middle">57</text>
<text x="443.9" y="566.0" class="r" font-size="12.4" text-anchor="middle">58</text>
<text x="443.9" y="578.0" class="r" font-size="12.4" text-anchor="middle">59</text>
<text x="555" y="538.1" class="r" font-size="12.4" text-anchor="middle">54</text>
<text x="554.2" y="602.3" class="r" font-size="12.4" text-anchor="middle">63</text>
<text x="504.3" y="616.8" class="r" font-size="12.4" text-anchor="middle">11</text>
<text x="527.7" y="620.5" class="r" font-size="12.4" text-anchor="middle">52</text>
<text x="522.8" y="688.3" class="r" font-size="12.4" text-anchor="middle">12</text>
<text x="439.5" y="379" class="n" font-size="13" textLength="56" lengthAdjust="spacingAndGlyphs">* Вариант</text>
<text x="439.90" y="379" class="n" font-size="13" textLength="56" lengthAdjust="spacingAndGlyphs">* Вариант</text>
<text x="441" y="516" class="n" font-size="12.5" textLength="54.5" lengthAdjust="spacingAndGlyphs">70-6701040</text>
<text x="441.40" y="516" class="n" font-size="12.5" textLength="54.5" lengthAdjust="spacingAndGlyphs">70-6701040</text>
<text x="551.5" y="562.5" class="n" font-size="12.5" textLength="56" lengthAdjust="spacingAndGlyphs">80-8101810</text>
<text x="551.90" y="562.5" class="n" font-size="12.5" textLength="56" lengthAdjust="spacingAndGlyphs">80-8101810</text>
<text x="364.7" y="46.8" class="s" font-size="14.2" text-anchor="middle">30</text>
<text x="365.05" y="46.8" class="s" font-size="14.2" text-anchor="middle">30</text>
<text x="408.8" y="46.8" class="s" font-size="14.2" text-anchor="middle">31</text>
<text x="409.15000000000003" y="46.8" class="s" font-size="14.2" text-anchor="middle">31</text>
<text x="519" y="46.0" class="s" font-size="14.2" text-anchor="middle">32</text>
<text x="519.35" y="46.0" class="s" font-size="14.2" text-anchor="middle">32</text>
<text x="589.4" y="47.7" class="s" font-size="14.2" text-anchor="middle">33</text>
<text x="589.75" y="47.7" class="s" font-size="14.2" text-anchor="middle">33</text>
<text x="579" y="213.5" class="s" font-size="14.2" text-anchor="middle">34</text>
<text x="579.35" y="213.5" class="s" font-size="14.2" text-anchor="middle">34</text>
<text x="543" y="213.5" class="s" font-size="14.2" text-anchor="middle">35</text>
<text x="543.35" y="213.5" class="s" font-size="14.2" text-anchor="middle">35</text>
<line x1="317.7" y1="108" x2="288.5" y2="125" stroke="#464646" stroke-width="1.0" />
<line x1="317.7" y1="123.7" x2="296.6" y2="132.2" stroke="#464646" stroke-width="1.0" />
<line x1="317.7" y1="139.2" x2="299.6" y2="142.3" stroke="#464646" stroke-width="1.0" />
<line x1="317.7" y1="154.3" x2="286.5" y2="149.9" stroke="#464646" stroke-width="1.0" />
<line x1="316.7" y1="171.4" x2="298.6" y2="171.4" stroke="#464646" stroke-width="1.0" />
<line x1="316.7" y1="187.5" x2="278.5" y2="183.5" stroke="#464646" stroke-width="1.0" />
<line x1="195.4" y1="178.7" x2="208" y2="181.5" stroke="#464646" stroke-width="1.0" />
<line x1="161.6" y1="185" x2="174.7" y2="210" stroke="#464646" stroke-width="1.0" />
<line x1="370.6" y1="256.7" x2="298.8" y2="284.5" stroke="#464646" stroke-width="1.0" />
<line x1="386.4" y1="264.4" x2="313" y2="294.6" stroke="#464646" stroke-width="1.0" />
<line x1="386.4" y1="264.4" x2="330.4" y2="300.3" stroke="#464646" stroke-width="1.0" />
<line x1="400.8" y1="271" x2="348" y2="317" stroke="#464646" stroke-width="1.0" />
<line x1="413.7" y1="277.4" x2="377" y2="301.5" stroke="#464646" stroke-width="1.0" />
<line x1="426.7" y1="283.7" x2="378" y2="307.5" stroke="#464646" stroke-width="1.0" />
<line x1="443.9" y1="291.7" x2="428" y2="311.8" stroke="#464646" stroke-width="1.0" />
<line x1="399.4" y1="332.5" x2="377.5" y2="331.7" stroke="#464646" stroke-width="1.0" />
<line x1="399.4" y1="344.9" x2="377.5" y2="337.5" stroke="#464646" stroke-width="1.0" />
<line x1="387" y1="371.7" x2="352.6" y2="361.4" stroke="#464646" stroke-width="1.0" />
<line x1="372" y1="382" x2="350.3" y2="369.4" stroke="#464646" stroke-width="1.0" />
<line x1="359.5" y1="392.4" x2="330" y2="368" stroke="#464646" stroke-width="1.0" />
<line x1="348" y1="402.8" x2="313.6" y2="364.8" stroke="#464646" stroke-width="1.0" />
<line x1="335.4" y1="413" x2="327.4" y2="400.5" stroke="#464646" stroke-width="1.0" />
<line x1="318" y1="423.4" x2="278" y2="395.9" stroke="#464646" stroke-width="1.0" />
<line x1="306.7" y1="433.8" x2="290.6" y2="421" stroke="#464646" stroke-width="1.0" />
<line x1="103" y1="343" x2="220" y2="342.5" stroke="#464646" stroke-width="1.0" />
<line x1="141" y1="372" x2="149" y2="363" stroke="#464646" stroke-width="1.0" />
<line x1="158" y1="380" x2="195.9" y2="364.5" stroke="#464646" stroke-width="1.0" />
<line x1="172" y1="388" x2="212" y2="384" stroke="#464646" stroke-width="1.0" />
<line x1="187" y1="397" x2="199.3" y2="390.2" stroke="#464646" stroke-width="1.0" />
<line x1="187" y1="414" x2="197" y2="409.3" stroke="#464646" stroke-width="1.0" />
<line x1="187" y1="435" x2="217.7" y2="426" stroke="#464646" stroke-width="1.0" />
<line x1="188" y1="453.5" x2="218.4" y2="443.4" stroke="#464646" stroke-width="1.0" />
<line x1="188" y1="470.6" x2="228.4" y2="457.5" stroke="#464646" stroke-width="1.0" />
<line x1="139" y1="436" x2="150" y2="433" stroke="#464646" stroke-width="1.0" />
<line x1="124" y1="452.5" x2="112" y2="455.5" stroke="#464646" stroke-width="1.0" />
<line x1="72" y1="442" x2="61" y2="434" stroke="#464646" stroke-width="1.0" />
<line x1="38" y1="497" x2="45" y2="476" stroke="#464646" stroke-width="1.0" />
<line x1="55" y1="504" x2="60" y2="484" stroke="#464646" stroke-width="1.0" />
<line x1="107" y1="531" x2="127" y2="500" stroke="#464646" stroke-width="1.0" />
<line x1="107" y1="531" x2="146" y2="491" stroke="#464646" stroke-width="1.0" />
<line x1="124" y1="538" x2="143" y2="512" stroke="#464646" stroke-width="1.0" />
<line x1="138" y1="546" x2="143" y2="536" stroke="#464646" stroke-width="1.0" />
<line x1="367" y1="480" x2="357" y2="470" stroke="#464646" stroke-width="1.0" />
<line x1="366" y1="499" x2="348" y2="492" stroke="#464646" stroke-width="1.0" />
<line x1="366" y1="517" x2="345" y2="514" stroke="#464646" stroke-width="1.0" />
<line x1="366" y1="536" x2="352" y2="541" stroke="#464646" stroke-width="1.0" />
<line x1="375" y1="558" x2="373" y2="592" stroke="#464646" stroke-width="1.0" />
<line x1="378" y1="558" x2="391" y2="578" stroke="#464646" stroke-width="1.0" />
<line x1="370" y1="622" x2="388" y2="618" stroke="#464646" stroke-width="1.0" />
<line x1="367" y1="637.5" x2="383" y2="637" stroke="#464646" stroke-width="1.0" />
<line x1="542" y1="379" x2="513" y2="387" stroke="#464646" stroke-width="1.0" />
<line x1="548.8" y1="392.8" x2="512" y2="403.7" stroke="#464646" stroke-width="1.0" />
<line x1="548.8" y1="424" x2="498" y2="442" stroke="#464646" stroke-width="1.0" />
<line x1="548.8" y1="443" x2="513" y2="455.5" stroke="#464646" stroke-width="1.0" />
<line x1="550" y1="495.7" x2="517" y2="476" stroke="#464646" stroke-width="1.0" />
<line x1="438" y1="518" x2="497" y2="518" stroke="#464646" stroke-width="1.0" />
<line x1="497" y1="518" x2="514.6" y2="493.8" stroke="#464646" stroke-width="1.0" />
<line x1="549" y1="496.6" x2="565" y2="496.6" stroke="#464646" stroke-width="1.0" />
<line x1="524" y1="418.7" x2="536.5" y2="423.3" stroke="#464646" stroke-width="1.0" />
<line x1="451.5" y1="543.2" x2="494.7" y2="562.5" stroke="#464646" stroke-width="1.0" />
<line x1="550" y1="537.7" x2="521.5" y2="577.3" stroke="#464646" stroke-width="1.0" />
<line x1="548" y1="564.5" x2="609" y2="564.5" stroke="#464646" stroke-width="1.0" />
<line x1="551.5" y1="564.5" x2="540.6" y2="573" stroke="#464646" stroke-width="1.0" />
<line x1="547.4" y1="599" x2="517.4" y2="587" stroke="#464646" stroke-width="1.0" />
<line x1="506" y1="618.3" x2="509.7" y2="633.3" stroke="#464646" stroke-width="1.0" />
<line x1="520" y1="622.4" x2="514.6" y2="637.4" stroke="#464646" stroke-width="1.0" />
<line x1="516.8" y1="679.7" x2="501.5" y2="641.5" stroke="#464646" stroke-width="1.0" />
<line x1="516.8" y1="679.7" x2="505" y2="644" stroke="#464646" stroke-width="1.0" />
<line x1="362.4" y1="49" x2="379.8" y2="88" stroke="#444" stroke-width="1.3" />
<line x1="410" y1="49" x2="439" y2="99.7" stroke="#444" stroke-width="1.3" />
<line x1="520" y1="49" x2="503" y2="63.5" stroke="#444" stroke-width="1.3" />
<line x1="587" y1="52" x2="566.8" y2="85.2" stroke="#444" stroke-width="1.3" />
<line x1="577" y1="196.8" x2="546.5" y2="147.5" stroke="#444" stroke-width="1.3" />
<line x1="540.7" y1="198" x2="508.8" y2="186.7" stroke="#444" stroke-width="1.3" />
<path d="M436.5 543.2 H451.5" fill="none" stroke="#464646" stroke-width="1.18" stroke-linejoin="round" />
<path d="M436.5 555.6 H452 M436.5 567 H452 M436.5 579.3 H452 M452 543.2 V579.3" fill="none" stroke="#8a8a8a" stroke-width="1.06" stroke-linejoin="round" />
<line x1="516" y1="186" x2="597" y2="148.5" stroke="#555" stroke-width="1.0" />
</g>
</svg>
</body></html>
